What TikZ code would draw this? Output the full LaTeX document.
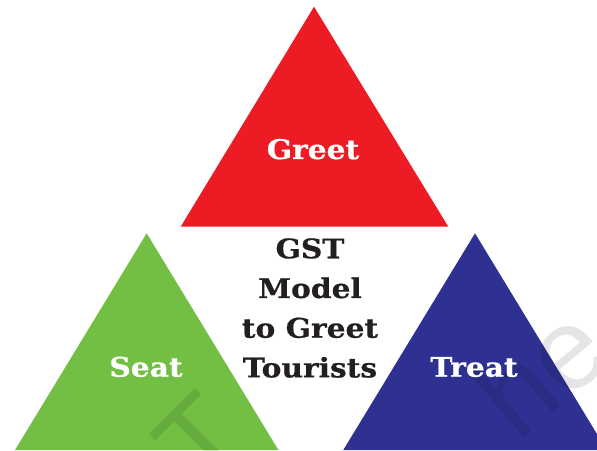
\documentclass[tikz,border=0pt]{standalone}
\usepackage{fontspec}
\newfontfamily\labelfont[FakeStretch=1.1,BoldFeatures={FakeBold=0.6}]{DejaVu Serif}
\newfontfamily\markfont{Liberation Sans}
\definecolor{greetred}{HTML}{ED1C24}
\definecolor{seatgreen}{HTML}{72BF44}
\definecolor{treatblue}{HTML}{2E3192}
\definecolor{inkblack}{HTML}{231F20}
\begin{document}
\begin{tikzpicture}[x=1pt,y=1pt,
  label/.style={text=white,font=\fontsize{27}{32}\labelfont\bfseries,inner sep=0pt},
  title/.style={text=inkblack,font=\fontsize{27}{39.7}\labelfont\bfseries,inner sep=0pt},
  wmark/.style={text=black,opacity=0.1,font=\fontsize{115}{115}\markfont,inner sep=0pt}]
\useasboundingbox (0,0) rectangle (597,450);
\clip (0,0) rectangle (597,450);
% three triangles
\fill[greetred]   (314,443.3) -- (180.7,223.3) -- (448.3,223.3) -- cycle;
\fill[seatgreen]  (146.7,216.7) -- (15,0) -- (278.4,0) -- cycle;
\fill[treatblue]  (475,216.7) -- (343.3,0) -- (606.7,0) -- cycle;
% faint watermark
\node[wmark,rotate=45] (wm1) at (200,10) {T};
\node[wmark,rotate=40] (wm2) at (540,80) {he};
% labels
\node[label,anchor=base] (greet) at (313,291) {Greet};
\node[label,anchor=base] (seat)  at (146,73.3) {Seat};
\node[label,anchor=base] (treat) at (474,73.3) {Treat};
\node[title,anchor=base] (model) at (310,191.7)
  {\setlength{\tabcolsep}{0pt}\begin{tabular}[t]{c}GST\\Model\\to Greet\\Tourists\end{tabular}};
\end{tikzpicture}
\end{document}
